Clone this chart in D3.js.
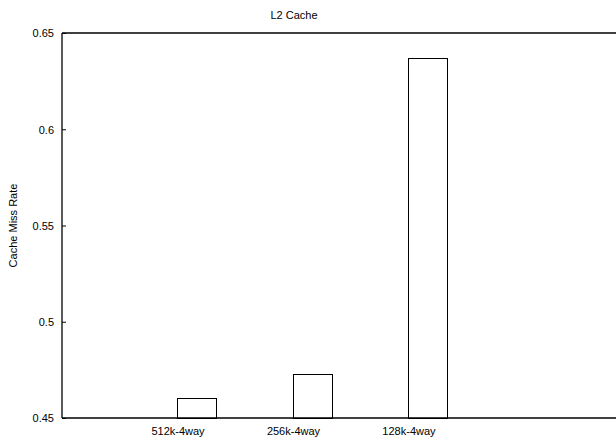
<!DOCTYPE html>
<html><head><meta charset="utf-8">
<script src="https://cdn.jsdelivr.net/npm/d3@7/dist/d3.min.js"></script>
<style>body{margin:0;background:#fff}svg{display:block}text{font-family:"Liberation Sans",Arial,sans-serif;font-size:11px;fill:#000}</style>
</head><body>
<script>
const categories = ["512k-4way", "256k-4way", "128k-4way"];
const missRates = [0.4605, 0.473, 0.637];
const yTicks = [0.45, 0.5, 0.55, 0.6, 0.65];
const yTickLabels = ["0.45", "0.5", "0.55", "0.6", "0.65"];
const title = "L2 Cache";
const yLabel = "Cache Miss Rate";

const W = 616, H = 437;
const m = {left: 62, top: 33, right: 0, bottom: 19};
const svg = d3.select("body").append("svg").attr("width", W).attr("height", H);

const y = d3.scaleLinear().domain([0.45, 0.65]).range([H - m.bottom, m.top]);
// category positions mark the left edge of each bar (labels sit there)
const x = d3.scaleLinear().domain([-1.0, 3.797]).range([m.left, W - m.right]);
const barW = 39;

// bars
svg.append("g").selectAll("rect").data(missRates).join("rect")
  .attr("x", (d, i) => Math.round(x(i)) + 0.5)
  .attr("y", d => Math.round(y(d)) + 0.5)
  .attr("width", barW)
  .attr("height", d => y(0.45) - Math.round(y(d)))
  .attr("fill", "none").attr("stroke", "#000").attr("stroke-width", 1);

// y axis
const ya = svg.append("g").attr("transform", `translate(${m.left},0)`)
  .call(d3.axisLeft(y).tickValues(yTicks).tickFormat((d, i) => yTickLabels[i]).tickSize(-4).tickPadding(8));
ya.select(".domain").remove();
ya.selectAll("line").attr("stroke", "#000");
ya.selectAll("text").style("font-size", "11px").attr("dy", "0.35em");

// x axis labels
const xa = svg.append("g").attr("transform", `translate(0,${H - m.bottom})`)
  .call(d3.axisBottom(x).tickValues([0, 1, 2]).tickFormat(i => categories[i]).tickSize(0).tickPadding(9));
xa.select(".domain").remove();
xa.selectAll("text").style("font-size", "11px");

// frame lines
const frame = svg.append("g").attr("stroke", "#000").attr("stroke-width", 1.3);
frame.append("line").attr("x1", m.left).attr("x2", m.left).attr("y1", m.top).attr("y2", H - m.bottom);
frame.append("line").attr("x1", m.left).attr("x2", W).attr("y1", H - m.bottom).attr("y2", H - m.bottom);
frame.append("line").attr("x1", m.left).attr("x2", W).attr("y1", m.top).attr("y2", m.top);

svg.append("text").attr("x", 294).attr("y", 19).attr("text-anchor", "middle").text(title);
svg.append("text").attr("transform", `translate(17,${(m.top + H - m.bottom) / 2}) rotate(-90)`)
  .attr("text-anchor", "middle").text(yLabel);
</script>
</body></html>
